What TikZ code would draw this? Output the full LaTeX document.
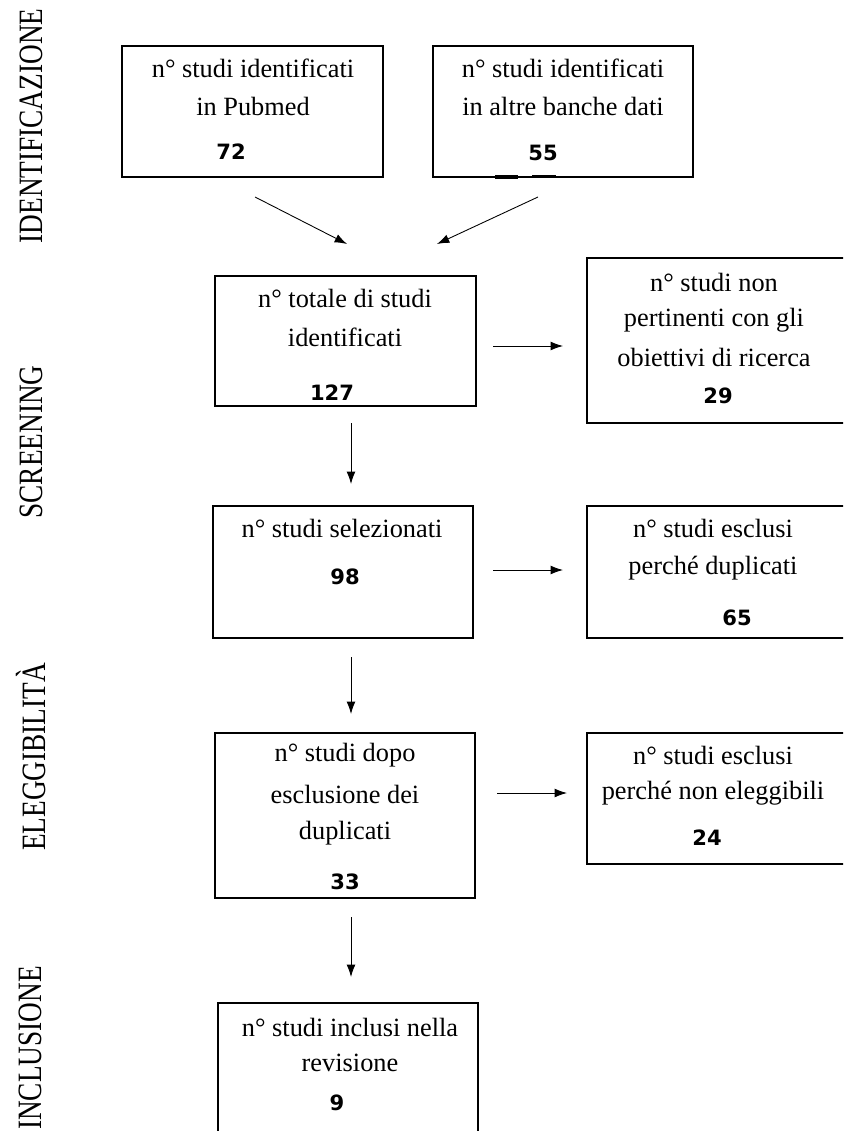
\documentclass[tikz,border=0pt]{standalone}
\usepackage{fontspec}
\setmainfont{Liberation Serif}
\newfontfamily\numfont{DejaVu Sans}
\newfontfamily\labfont{Liberation Serif}[FakeStretch=0.8]
\usetikzlibrary{arrows.meta,fit}
\begin{document}
\begin{tikzpicture}[x=0.02cm,y=-0.02cm,
  box/.style={draw, line width=0.9pt, inner sep=0pt},
  txt/.style={font=\fontsize{15}{18}\selectfont, inner sep=0pt},
  num/.style={font=\numfont\bfseries\fontsize{12}{14}\selectfont, inner sep=0pt},
  lab/.style={font=\labfont\fontsize{19.4}{22}\selectfont, rotate=90, inner sep=0pt},
  arr/.style={-{Latex[length=7pt,width=5pt]}, line width=0.5pt}]
\useasboundingbox (0,0) rectangle (843,1131);
\clip (0,0) rectangle (843,1131);

% stage labels
\node[lab] (lid) at (31,126) {IDENTIFICAZIONE};
\node[lab] (lsc) at (31,442) {SCREENING};
\node[lab] (lel) at (31,757) {ELEGGIBILITÀ};
\node[lab] (lin) at (30,1048) {INCLUSIONE};

% boxes
\node[box, fit={(122,46) (383,177)}] (A) {};
\node[box, fit={(433,46) (693,177)}] (B) {};
\node[box, fit={(215,276) (476,406)}] (C) {};
\node[box, fit={(587,258) (850,423)}] (D) {};
\node[box, fit={(213,506) (473,638)}] (E) {};
\node[box, fit={(587,506) (850,638)}] (F) {};
\node[box, fit={(215,733) (475,898)}] (G) {};
\node[box, fit={(587,733) (850,864)}] (H) {};
\node[box, fit={(218,1003) (478,1150)}] (I) {};

% marks on box B bottom
\fill (495,175) rectangle (518,179);
\fill (532,175) rectangle (556,178.5);

% texts
\node[txt] (a1) at (253,68) {n° studi identificati};
\node[txt] (a2) at (253,106) {in Pubmed};
\node[num] (a3) at (231,152) {72};

\node[txt] (b1) at (563,68) {n° studi identificati};
\node[txt] (b2) at (563,106) {in altre banche dati};
\node[num] (b3) at (543,153) {55};

\node[txt] (c1) at (345,298) {n° totale di studi};
\node[txt] (c2) at (345,337) {identificati};
\node[num] (c3) at (332,393) {127};

\node[txt] (d1) at (714,282) {n° studi non};
\node[txt] (d2) at (714,320) {pertinenti con gli};
\node[txt] (d3) at (714,357) {obiettivi di ricerca};
\node[num] (d4) at (718,396) {29};

\node[txt] (e1) at (342,528) {n° studi selezionati};
\node[num] (e2) at (345,577) {98};

\node[txt] (f1) at (713,528) {n° studi esclusi};
\node[txt] (f2) at (713,568) {perché duplicati};
\node[num] (f3) at (737,618) {65};

\node[txt] (g1) at (345,755) {n° studi dopo};
\node[txt] (g2) at (345,794) {esclusione dei};
\node[txt] (g3) at (345,833) {duplicati};
\node[num] (g4) at (345,882) {33};

\node[txt] (h1) at (713,755) {n° studi esclusi};
\node[txt] (h2) at (713,793) {perché non eleggibili};
\node[num] (h3) at (707,838) {24};

\node[txt] (i1) at (350,1027) {n° studi inclusi nella};
\node[txt] (i2) at (350,1063) {revisione};
\node[num] (i3) at (337,1103) {9};

% connector end points
\coordinate (a0) at (255,197);
\coordinate (ac) at (347,244);
\coordinate (b0) at (538,197);
\coordinate (bc) at (437,244);
\coordinate (cd0) at (493,346);
\coordinate (cd1) at (563,346);
\coordinate (ce0) at (351,423);
\coordinate (ce1) at (351,484);
\coordinate (ef0) at (493,570);
\coordinate (ef1) at (563,570);
\coordinate (eg0) at (351,657);
\coordinate (eg1) at (351,714);
\coordinate (gh0) at (497,793);
\coordinate (gh1) at (567,793);
\coordinate (gi0) at (351,917);
\coordinate (gi1) at (351,977);

\draw[arr] (a0) -- (ac);
\draw[arr] (b0) -- (bc);
\draw[arr] (cd0) -- (cd1);
\draw[arr] (ce0) -- (ce1);
\draw[arr] (ef0) -- (ef1);
\draw[arr] (eg0) -- (eg1);
\draw[arr] (gh0) -- (gh1);
\draw[arr] (gi0) -- (gi1);
\end{tikzpicture}
\end{document}
